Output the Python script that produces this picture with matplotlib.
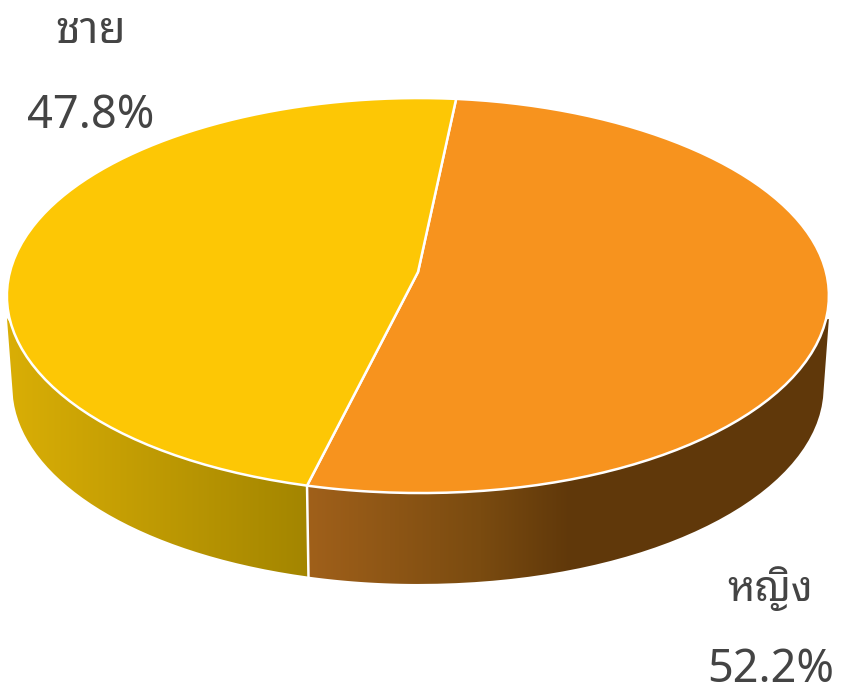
import matplotlib
matplotlib.use('Agg')
import matplotlib.pyplot as plt
from matplotlib.patches import Polygon
import numpy as np

# values
labels = ['หญิง', 'ชาย']
shares = [52.2, 47.8]
value_labels = ['52.2%', '47.8%']
top_colors = ['#f7931e', '#fdc705']
side_colors = [['#a0601a', '#7a4b10', '#60380a', '#60380a'], ['#d9ae06', '#a38500']]
side_stops = [[308, 480, 570, 825], [10, 308]]
text_color = '#444444'
start_angle = 6.0

# perspective of the pie, in pixels
cx, apex_y, c, b, k = 418, 272, 408, -162.3, 0.119
depth, shrink = 91, 0.987
wall_start_y = 318
wall_corner_y = 392


def project(x, s):
    w = 1 + k * s
    return cx + c * x / w, (apex_y + b * s) / w


def arc_points(a0, a1, n=40):
    # bezier pieces of at most 90 degrees, control points go through the perspective too
    pts = []
    steps = np.r_[np.arange(a0, a1, 90.0), a1]
    for p, q in zip(steps[:-1], steps[1:]):
        t0, t1 = np.radians(p), np.radians(q)
        d = 4 / 3 * np.tan((t1 - t0) / 4)
        ctrl = [(np.sin(t0), np.cos(t0)),
                (np.sin(t0) + d * np.cos(t0), np.cos(t0) - d * np.sin(t0)),
                (np.sin(t1) - d * np.cos(t1), np.cos(t1) + d * np.sin(t1)),
                (np.sin(t1), np.cos(t1))]
        ctrl = np.array([project(*v) for v in ctrl])
        u = np.linspace(0, 1, n)[:, None]
        pts.append((1 - u) ** 3 * ctrl[0] + 3 * (1 - u) ** 2 * u * ctrl[1] + 3 * (1 - u) * u ** 2 * ctrl[2] + u ** 3 * ctrl[3])
    return np.vstack(pts)


def to_bottom(pts):
    return np.column_stack([cx + (pts[:, 0] - cx) * shrink, pts[:, 1] + depth])


fig = plt.figure(figsize=(8.46, 6.91), dpi=100)
ax = fig.add_axes([0, 0, 1, 1])
ax.set_xlim(0, 846)
ax.set_ylim(691, 0)
ax.axis('off')

edges = start_angle + np.cumsum([0] + [v * 3.6 for v in shares])
orange_rim = arc_points(edges[0], edges[1])
yellow_rim = arc_points(edges[1], edges[2])
seam_top = orange_rim[-1]
seam_bottom = to_bottom(orange_rim[-1:])[0]

# side walls: top rim facing the viewer, a straight edge from the widest x, then the bottom rim
right_corner = [[orange_rim[:, 0].max(), wall_start_y + 1]]
left_corner = [[yellow_rim[:, 0].min(), wall_start_y]]
orange_bottom = to_bottom(arc_points(90, edges[1]))
yellow_bottom = to_bottom(arc_points(edges[1], 270))
orange_wall = np.vstack([right_corner, orange_rim[orange_rim[:, 1] > wall_start_y],
                         orange_bottom[orange_bottom[:, 1] > wall_corner_y][::-1]])
yellow_wall = np.vstack([yellow_rim[yellow_rim[:, 1] > wall_start_y], left_corner,
                         yellow_bottom[yellow_bottom[:, 1] > wall_corner_y][::-1]])

xs = np.arange(0, 846)
for i, verts in enumerate([orange_wall, yellow_wall]):
    poly = Polygon(verts, closed=True, fc='none', ec='none')
    ax.add_patch(poly)
    rgb = np.array([matplotlib.colors.to_rgb(h) for h in side_colors[i]])
    grad = np.stack([np.interp(xs, side_stops[i], rgb[:, j]) for j in range(3)], axis=-1)[None, :, :]
    im = ax.imshow(grad, extent=[0, 846, 691, 0], aspect='auto', zorder=1)
    im.set_clip_path(poly)

# white seam between the two walls
ax.plot([seam_top[0], seam_bottom[0]], [seam_top[1], seam_bottom[1]], color='white', lw=1.8, zorder=2)

apex = np.array([[cx, apex_y]])
for rim, color in zip([orange_rim, yellow_rim], top_colors):
    ax.add_patch(Polygon(np.vstack([apex, rim]), closed=True, fc=color, ec='white', lw=1.8, joinstyle='round', zorder=3))

thai = ['Noto Sans Thai Looped', 'DejaVu Sans']
digits = ['Noto Sans', 'DejaVu Sans']
ax.text(770, 589, labels[0], family=thai, fontsize=30, color=text_color, ha='center', va='center')
ax.text(771, 670, value_labels[0], family=digits, fontsize=32.5, color=text_color, ha='center', va='center')
ax.text(91, 32, labels[1], family=thai, fontsize=32, color=text_color, ha='center', va='center')
ax.text(90.5, 116, value_labels[1], family=digits, fontsize=32.5, color=text_color, ha='center', va='center')

fig.savefig('out.png', dpi=100)
